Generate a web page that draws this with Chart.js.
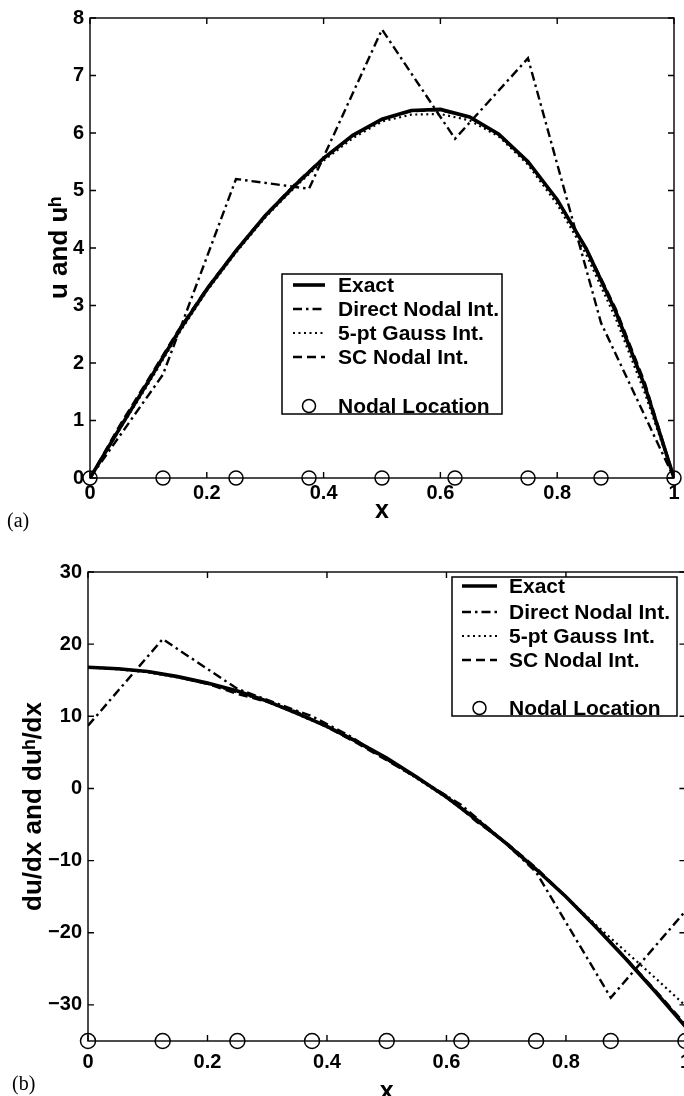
<!DOCTYPE html>
<html>
<head>
<meta charset="utf-8">
<script src="https://cdn.jsdelivr.net/npm/chart.js@4.4.0/dist/chart.umd.min.js"></script>
<style>
  html, body { margin: 0; padding: 0; background: #fff; overflow: hidden; }
  body { width: 684px; height: 1096px; position: relative; }
  #wrapA { position: absolute; left: 0; top: 0; width: 684px; height: 540px; }
  #wrapB { position: absolute; left: 0; top: 540px; width: 700px; height: 580px; }
  .tag { position: absolute; font-family: "Liberation Serif", "DejaVu Serif", serif; font-size: 20px; line-height: 20px; }
</style>
</head>
<body>
<div id="wrapA"><canvas id="chartA"></canvas></div>
<div id="wrapB"><canvas id="chartB"></canvas></div>
<div class="tag" style="left:7px; top:510px;">(a)</div>
<div class="tag" style="left:12px; top:1073px;">(b)</div>

<script>
const xGrid = [0, 0.05, 0.1, 0.15, 0.2, 0.25, 0.3, 0.35, 0.4, 0.45, 0.5,
               0.55, 0.6, 0.65, 0.7, 0.75, 0.8, 0.85, 0.9, 0.95, 1];
const nodeX = [0, 0.125, 0.25, 0.375, 0.5, 0.625, 0.75, 0.875, 1];

// (a) u and u^h
const uExact  = [0, 0.85, 1.68, 2.52, 3.28, 3.95, 4.56, 5.08, 5.56, 5.96, 6.24,
                 6.39, 6.41, 6.28, 5.98, 5.5, 4.84, 3.98, 2.9, 1.6, 0];
const uDirect = [0, 1.8, 5.2, 5.03, 7.8, 5.9, 7.3, 2.7, 0]; // at nodeX
const uGauss  = [0, 0.83, 1.64, 2.48, 3.25, 3.92, 4.53, 5.05, 5.52, 5.91, 6.2,
                 6.32, 6.33, 6.22, 5.94, 5.45, 4.76, 3.88, 2.78, 1.48, 0];
const uSC     = [0, 0.9, 1.72, 2.55, 3.3, 3.96, 4.57, 5.1, 5.57, 5.96, 6.24,
                 6.38, 6.4, 6.27, 5.97, 5.49, 4.84, 3.99, 2.95, 1.66, 0];
const nodeU   = [0, 0, 0, 0, 0, 0, 0, 0, 0];

// (b) du/dx and du^h/dx
const duExact  = [16.8, 16.6, 16.2, 15.5, 14.6, 13.5, 12.1, 10.4, 8.6, 6.5, 4.2,
                  1.6, -1.2, -4.3, -7.6, -11.2, -15.0, -19.2, -23.6, -28.2, -33.0];
const duDirectX = [0, 0.125, 0.25, 0.3125, 0.375, 0.4375, 0.5, 0.5625, 0.625, 0.6875, 0.75, 0.875, 1];
const duDirect  = [8.7, 20.7, 13.8, 11.9, 10.0, 7.3, 4.0, 0.9, -2.3, -6.7, -11.6, -29.0, -17.0];
const duGauss  = [16.8, 16.5, 16.1, 15.4, 14.5, 13.3, 12.0, 10.3, 8.5, 6.4, 4.0,
                  1.4, -1.3, -4.4, -7.7, -11.3, -15.0, -18.9, -22.6, -26.3, -30.1];
const duSC     = [16.8, 16.6, 16.2, 15.5, 14.5, 13.1, 12.0, 10.6, 8.5, 6.3, 3.9,
                  1.5, -1.0, -4.6, -7.5, -11.0, -15.0, -19.1, -23.5, -28.0, -32.7];
const nodeDu   = [-35, -35, -35, -35, -35, -35, -35, -35, -35];

const seriesNames = ['Exact', 'Direct Nodal Int.', '5-pt Gauss Int.', 'SC Nodal Int.', 'Nodal Location'];
const xTicks  = [0, 0.2, 0.4, 0.6, 0.8, 1];
const yTicksA = [0, 1, 2, 3, 4, 5, 6, 7, 8];
const yTicksB = [-30, -20, -10, 0, 10, 20, 30];

const FONT = '"Liberation Sans", Arial, Helvetica, sans-serif';
Chart.defaults.font.family = FONT;
Chart.defaults.color = '#000';

const lineStyles = [
  { width: 3.6, dash: [] },
  { width: 2.4, dash: [9, 4, 2.5, 4] },
  { width: 2.2, dash: [2, 3.5] },
  { width: 2.4, dash: [9, 5] },
  { marker: true }
];

function pts(xs, ys) {
  return xs.map((x, i) => ({ x: x, y: ys[i] }));
}

function lineSet(i, data) {
  return {
    label: seriesNames[i],
    data: data,
    borderColor: '#000',
    borderWidth: lineStyles[i].width,
    borderDash: lineStyles[i].dash,
    pointRadius: 0,
    tension: 0,
    fill: false
  };
}

function nodeSet(data, r) {
  return {
    label: seriesNames[4],
    data: data,
    showLine: false,
    pointRadius: r,
    pointStyle: 'circle',
    pointBorderColor: '#000',
    pointBackgroundColor: 'rgba(0,0,0,0)',
    pointBorderWidth: 1.5,
    clip: false
  };
}

function fmtX(v) {
  const r = Math.round(v * 10) / 10;
  return (r === 0 || r === 1) ? String(r) : r.toFixed(1);
}

// box round the plot with MATLAB-style ticks pointing inwards
const framePlugin = {
  id: 'frame',
  beforeDatasetsDraw(chart) {
    const { ctx, chartArea: a } = chart;
    const x = chart.scales.x, y = chart.scales.y;
    ctx.save();
    ctx.strokeStyle = '#000';
    ctx.lineWidth = 1.4;
    ctx.setLineDash([]);
    ctx.strokeRect(a.left, a.top, a.right - a.left, a.bottom - a.top);
    ctx.beginPath();
    x.ticks.forEach(t => {
      const p = x.getPixelForValue(t.value);
      ctx.moveTo(p, a.bottom); ctx.lineTo(p, a.bottom - 6);
      ctx.moveTo(p, a.top); ctx.lineTo(p, a.top + 6);
    });
    y.ticks.forEach(t => {
      const p = y.getPixelForValue(t.value);
      ctx.moveTo(a.left, p); ctx.lineTo(a.left + 6, p);
      ctx.moveTo(a.right, p); ctx.lineTo(a.right - 6, p);
    });
    ctx.stroke();
    ctx.restore();
  }
};

const boxLegend = {
  id: 'boxLegend',
  afterDraw(chart, args, o) {
    const ctx = chart.ctx;
    ctx.save();
    ctx.fillStyle = '#fff';
    ctx.fillRect(o.left, o.top, o.right - o.left, o.bottom - o.top);
    ctx.strokeStyle = '#000';
    ctx.lineWidth = 1.5;
    ctx.setLineDash([]);
    ctx.strokeRect(o.left, o.top, o.right - o.left, o.bottom - o.top);
    ctx.font = 'bold 21px ' + FONT;
    ctx.textBaseline = 'middle';
    ctx.textAlign = 'left';
    ctx.fillStyle = '#000';
    seriesNames.forEach((name, i) => {
      const yy = o.rows[i];
      const st = lineStyles[i];
      if (st.marker) {
        ctx.lineWidth = 1.5;
        ctx.setLineDash([]);
        ctx.beginPath();
        ctx.arc((o.x0 + o.x1) / 2, yy, 6.5, 0, Math.PI * 2);
        ctx.stroke();
      } else {
        ctx.lineWidth = st.width;
        ctx.setLineDash(st.dash);
        ctx.beginPath();
        ctx.moveTo(o.x0, yy);
        ctx.lineTo(o.x1, yy);
        ctx.stroke();
      }
      ctx.fillText(name, o.textX, yy + 1);
    });
    ctx.restore();
  }
};

function makeOptions(cfg) {
  return {
    responsive: true,
    maintainAspectRatio: false,
    animation: false,
    layout: { padding: { top: cfg.padTop, right: cfg.padRight, left: 0, bottom: 0 } },
    plugins: {
      legend: { display: false },
      tooltip: { enabled: false },
      boxLegend: cfg.legend
    },
    scales: {
      x: {
        type: 'linear',
        min: 0, max: 1,
        afterBuildTicks: s => { s.ticks = xTicks.map(v => ({ value: v })); },
        afterFit: s => { s.height = cfg.xHeight; },
        ticks: { font: { size: 20, weight: 'bold' }, padding: cfg.xTickPad, maxRotation: 0, callback: v => fmtX(v) },
        grid: { display: false, drawTicks: false },
        border: { display: false },
        title: { display: true, text: 'x', font: { size: 25, weight: 'bold' }, padding: { top: 0, bottom: cfg.xTitlePad } }
      },
      y: {
        min: cfg.yMin, max: cfg.yMax,
        afterBuildTicks: s => { s.ticks = cfg.yTicks.map(v => ({ value: v })); },
        afterFit: s => { s.width = cfg.yWidth; },
        ticks: { font: { size: 20, weight: 'bold' }, padding: 6, callback: v => (v < 0 ? '\u2212' + Math.abs(v) : String(v)) },
        grid: { display: false, drawTicks: false },
        border: { display: false },
        title: { display: true, text: cfg.yTitle, font: { size: 26, weight: 'bold' }, padding: { top: cfg.yTitlePad, bottom: 0 } }
      }
    }
  };
}

new Chart(document.getElementById('chartA'), {
  type: 'line',
  data: {
    datasets: [
      nodeSet(pts(nodeX, nodeU), 7),
      lineSet(0, pts(xGrid, uExact)),
      lineSet(1, pts(nodeX, uDirect)),
      lineSet(2, pts(xGrid, uGauss)),
      lineSet(3, pts(xGrid, uSC))
    ]
  },
  options: makeOptions({
    padTop: 17, padRight: 10, xHeight: 62, yWidth: 90,
    xTickPad: 3, xTitlePad: 14, yTitlePad: 44,
    yMin: 0, yMax: 8, yTicks: yTicksA, yTitle: 'u and u\u02B0',
    legend: { left: 282, right: 502, top: 274, bottom: 414, x0: 293, x1: 325, textX: 338,
              rows: [285, 309, 333, 357, 406] }
  }),
  plugins: [framePlugin, boxLegend]
});

new Chart(document.getElementById('chartB'), {
  type: 'line',
  data: {
    datasets: [
      nodeSet(pts(nodeX, nodeDu), 7.5),
      lineSet(0, pts(xGrid, duExact)),
      lineSet(1, pts(duDirectX, duDirect)),
      lineSet(2, pts(xGrid, duGauss)),
      lineSet(3, pts(xGrid, duSC))
    ]
  },
  options: makeOptions({
    padTop: 32, padRight: 14, xHeight: 79, yWidth: 88,
    xTickPad: 9, xTitlePad: 13, yTitlePad: 18,
    yMin: -35, yMax: 30, yTicks: yTicksB, yTitle: 'du/dx and du\u02B0/dx',
    legend: { left: 452, right: 677, top: 37, bottom: 176, x0: 462, x1: 497, textX: 509,
              rows: [46, 72, 96, 120, 168] }
  }),
  plugins: [framePlugin, boxLegend]
});
</script>
</body>
</html>
